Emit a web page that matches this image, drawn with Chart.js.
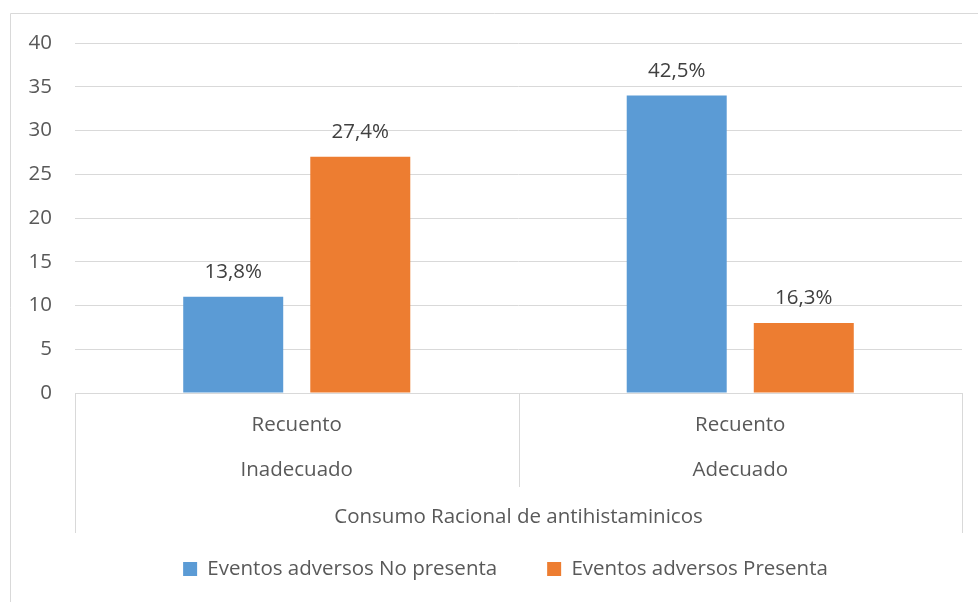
<!DOCTYPE html>
<html>
<head>
<meta charset="utf-8">
<style>
  html, body { margin: 0; padding: 0; background: #fff; }
  #wrap { width: 978px; height: 602px; }
</style>
<script src="https://cdn.jsdelivr.net/npm/chart.js@4.4.1/dist/chart.umd.min.js"></script>
</head>
<body>
<div id="wrap"><canvas id="grafico"></canvas></div>
<script>
// Datos
var categorias = [['Recuento', 'Inadecuado'], ['Recuento', 'Adecuado']];
var tituloEje = 'Consumo Racional de antihistaminicos';
var series = ['Eventos adversos No presenta', 'Eventos adversos Presenta'];
var noPresenta = [11, 34];
var presenta = [27, 8];
var etiquetasNoPresenta = ['13,8%', '42,5%'];
var etiquetasPresenta = ['27,4%', '16,3%'];
var ticksY = [0, 5, 10, 15, 20, 25, 30, 35, 40];

var colorTexto = '#595959';
var colorLinea = '#d9d9d9';
var fuente = '"Open Sans", sans-serif';
var tam = 20.5;

// Marco, líneas divisorias del eje de categorías y etiquetas de porcentaje
var decoracion = {
    id: 'decoracion',
    afterLayout: function (chart) {
        // la leyenda del original está algo desplazada a la derecha
        chart.legend.left += 24.5;
        chart.legend.right += 24.5;
    },
    beforeDraw: function (chart) {
        var ctx = chart.ctx;
        ctx.save();
        ctx.strokeStyle = colorLinea;
        ctx.lineWidth = 1;
        ctx.beginPath();
        ctx.moveTo(10.5, 602);
        ctx.lineTo(10.5, 13.5);
        ctx.lineTo(978, 13.5);
        ctx.stroke();
        ctx.restore();
    },
    afterDatasetsDraw: function (chart) {
        var ctx = chart.ctx;
        var area = chart.chartArea;
        var n = categorias.length;
        var paso = (area.right - area.left) / n;
        ctx.save();
        ctx.strokeStyle = colorLinea;
        ctx.lineWidth = 1;
        ctx.beginPath();
        ctx.moveTo(area.left, Math.round(area.bottom) + 0.5);
        ctx.lineTo(area.right, Math.round(area.bottom) + 0.5);
        for (var i = 0; i <= n; i++) {
            var px = Math.round(area.left + paso * i) + 0.5;
            var fin = (i === 0 || i === n) ? area.bottom + 140 : area.bottom + 94;
            ctx.moveTo(px, area.bottom);
            ctx.lineTo(px, fin);
        }
        ctx.stroke();

        ctx.fillStyle = '#404040';
        ctx.font = tam + 'px ' + fuente;
        ctx.textAlign = 'center';
        ctx.textBaseline = 'middle';
        var grupos = [etiquetasNoPresenta, etiquetasPresenta];
        grupos.forEach(function (etiquetas, d) {
            var meta = chart.getDatasetMeta(d);
            meta.data.forEach(function (bar, j) {
                ctx.fillText(etiquetas[j], bar.x, bar.y - 24.5);
            });
        });
        ctx.restore();
    }
};

new Chart(document.getElementById('grafico').getContext('2d'), {
    type: 'bar',
    data: {
        labels: categorias,
        datasets: [{
            label: series[0],
            data: noPresenta,
            backgroundColor: '#5b9bd5'
        }, {
            label: series[1],
            data: presenta,
            backgroundColor: '#ed7d31'
        }]
    },
    options: {
        responsive: true,
        maintainAspectRatio: false,
        animation: false,
        categoryPercentage: 0.573,
        barPercentage: 0.787,
        layout: {
            padding: { left: 0, right: 16, top: 43, bottom: 12.75 }
        },
        plugins: {
            legend: {
                position: 'bottom',
                labels: {
                    color: colorTexto,
                    font: { family: fuente, size: tam },
                    boxWidth: 14,
                    boxHeight: 14,
                    padding: 50
                }
            },
            tooltip: { enabled: false }
        },
        scales: {
            x: {
                grid: { display: false, drawTicks: false },
                border: { display: false },
                ticks: {
                    color: colorTexto,
                    font: { family: fuente, size: tam, lineHeight: 2.22 },
                    padding: 9,
                    maxRotation: 0
                },
                title: {
                    display: true,
                    text: tituloEje,
                    color: colorTexto,
                    font: { family: fuente, size: tam },
                    padding: { top: 0, bottom: -21 }
                },
                afterFit: function (scale) { scale.height = 115.75; }
            },
            y: {
                min: 0,
                max: 40,
                afterBuildTicks: function (scale) {
                    scale.ticks = ticksY.map(function (v) { return { value: v }; });
                },
                grid: { color: colorLinea, drawTicks: false },
                border: { display: false },
                ticks: {
                    color: colorTexto,
                    font: { family: fuente, size: tam },
                    padding: 23
                },
                afterFit: function (scale) { scale.width = 75; }
            }
        }
    },
    plugins: [decoracion]
});
</script>
</body>
</html>
